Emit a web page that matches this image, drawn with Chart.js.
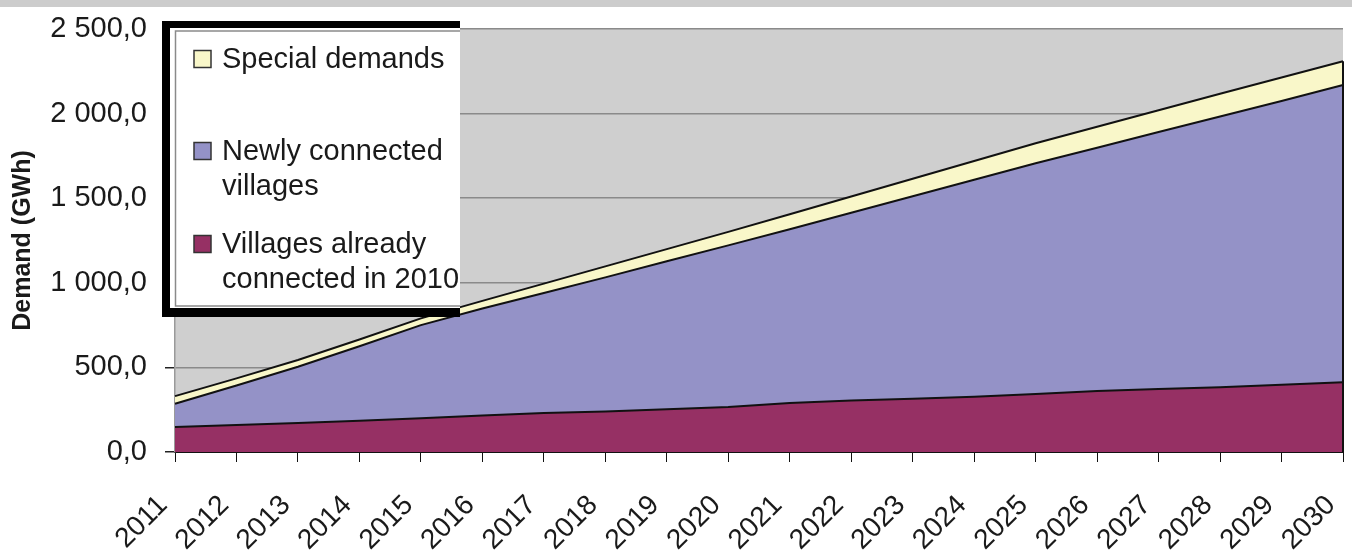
<!DOCTYPE html>
<html>
<head>
<meta charset="utf-8">
<script src="https://cdn.jsdelivr.net/npm/chart.js@4/dist/chart.umd.min.js"></script>
<style>
html,body{margin:0;padding:0;background:#ffffff;}
#wrap{width:1352px;height:551px;position:relative;}
</style>
</head>
<body>
<div id="wrap"><canvas id="c" width="1352" height="551"></canvas></div>
<script>
// ---- data ----
const years = ['2011','2012','2013','2014','2015','2016','2017','2018','2019','2020',
               '2021','2022','2023','2024','2025','2026','2027','2028','2029','2030'];
const villagesAlreadyConnected = [148,160,172,185,200,215,230,240,252,266,290,305,314,327,343,360,372,383,397,412];
const newlyConnectedVillages  = [137,233,332,440,550,633,710,792,875,955,1027,1109,1197,1282,1364,1438,1519,1600,1677,1757];
const specialDemands          = [45,42,40,40,40,45,55,65,72,80,88,96,104,111,118,124,129,134,139,140];
const yTickValues = [0,500,1000,1500,2000,2500];
const yTickLabels = ['0,0','500,0','1 000,0','1 500,0','2 000,0','2 500,0'];
const seriesNames = ['Villages already connected in 2010','Newly connected villages','Special demands'];
const legendLines = [['Special demands'],['Newly connected','villages'],['Villages already','connected in 2010']];
const yTitle = 'Demand (GWh)';

const FONT = "'Liberation Sans', Arial, sans-serif";
const TXT = '#1a1a1a';
const colMaroon = '#963064', colBlue = '#9492c7', colYellow = '#f9f7c9';

const bgPlugin = {
  id: 'bg',
  beforeDraw(chart) {
    const {ctx, chartArea: a} = chart;
    ctx.save();
    ctx.fillStyle = '#cccccc';
    ctx.fillRect(0, 0, chart.width, 7);
    ctx.fillStyle = '#cfcfcf';
    ctx.fillRect(a.left, a.top, a.right - a.left, a.bottom - a.top);
    ctx.restore();
  }
};

const edgePlugin = {
  id: 'edge',
  afterDatasetsDraw(chart) {
    const xs = chart.scales.x, ys = chart.scales.y, ctx = chart.ctx;
    const last = years.length - 1;
    const total = villagesAlreadyConnected[last] + newlyConnectedVillages[last] + specialDemands[last];
    const x = xs.getPixelForValue(last);
    ctx.save();
    ctx.strokeStyle = '#111';
    ctx.lineWidth = 2;
    ctx.beginPath();
    ctx.moveTo(x, ys.getPixelForValue(total));
    ctx.lineTo(x, ys.getPixelForValue(0));
    ctx.stroke();
    ctx.restore();
  }
};

const legendPlugin = {
  id: 'boxLegend',
  afterDraw(chart) {
    const ctx = chart.ctx;
    const ds = chart.data.datasets;
    const order = [2, 1, 0];
    ctx.save();
    ctx.beginPath();
    ctx.rect(0, 0, 460, chart.height);
    ctx.clip();
    ctx.fillStyle = '#000';
    ctx.fillRect(162, 21, 320, 296);
    ctx.fillStyle = '#fff';
    ctx.fillRect(170, 28, 320, 280);
    ctx.strokeStyle = '#8a8a8a';
    ctx.lineWidth = 1.5;
    ctx.strokeRect(175.5, 31, 320, 275);
    const centers = [59, 151, 244];
    ctx.font = '29px ' + FONT;
    ctx.textBaseline = 'middle';
    ctx.textAlign = 'left';
    order.forEach((di, i) => {
      const cy = centers[i];
      ctx.fillStyle = ds[di].backgroundColor;
      ctx.fillRect(194, cy - 8.5, 17, 17);
      ctx.strokeStyle = '#333';
      ctx.lineWidth = 1.5;
      ctx.strokeRect(194, cy - 8.5, 17, 17);
      ctx.fillStyle = TXT;
      legendLines[i].forEach((ln, k) => ctx.fillText(ln, 222, cy + 1 + k * 35));
    });
    ctx.restore();
  }
};

new Chart(document.getElementById('c'), {
  type: 'line',
  data: {
    labels: years,
    datasets: [
      { label: seriesNames[0], data: villagesAlreadyConnected, backgroundColor: colMaroon, borderColor: '#111', borderWidth: 2, fill: 'origin', pointRadius: 0, tension: 0 },
      { label: seriesNames[1], data: newlyConnectedVillages, backgroundColor: colBlue, borderColor: '#111', borderWidth: 2, fill: '-1', pointRadius: 0, tension: 0 },
      { label: seriesNames[2], data: specialDemands, backgroundColor: colYellow, borderColor: '#111', borderWidth: 2, fill: '-1', pointRadius: 0, tension: 0 }
    ]
  },
  options: {
    responsive: false,
    animation: false,
    devicePixelRatio: 1,
    layout: { padding: { top: 29, right: 9, left: 0, bottom: 0 } },
    plugins: { legend: { display: false }, tooltip: { enabled: false } },
    scales: {
      x: {
        stacked: true,
        offset: false,
        afterFit(s) { s.height = 99; s.paddingLeft = 0; s.paddingRight = 0; s.paddingTop = 0; s.paddingBottom = 0; },
        grid: { drawOnChartArea: false, drawTicks: true, tickLength: 10, color: '#111', tickColor: '#111' },
        border: { display: true, color: '#111', width: 2 },
        ticks: { autoSkip: false, minRotation: 45, maxRotation: 45, padding: 27, labelOffset: -12, color: TXT, font: { family: FONT, size: 28 } }
      },
      y: {
        stacked: true,
        min: 0, max: 2500,
        afterFit(s) { s.width = 175; s.paddingLeft = 0; s.paddingRight = 0; s.paddingTop = 0; s.paddingBottom = 0; },
        afterBuildTicks(s) { s.ticks = yTickValues.map(v => ({ value: v })); },
        grid: { color: '#8a8a8a', lineWidth: 1.5, tickLength: 10, tickColor: '#222' },
        border: { display: true, color: '#9a9a9a', width: 1.5 },
        ticks: {
          padding: 18, color: TXT, font: { family: FONT, size: 29 },
          callback: (v) => yTickLabels[yTickValues.indexOf(v)]
        },
        title: { display: true, text: yTitle, color: TXT, font: { family: FONT, size: 25, weight: 'bold' }, padding: { top: 8, bottom: 0 } }
      }
    }
  },
  plugins: [bgPlugin, edgePlugin, legendPlugin]
});
</script>
</body>
</html>
